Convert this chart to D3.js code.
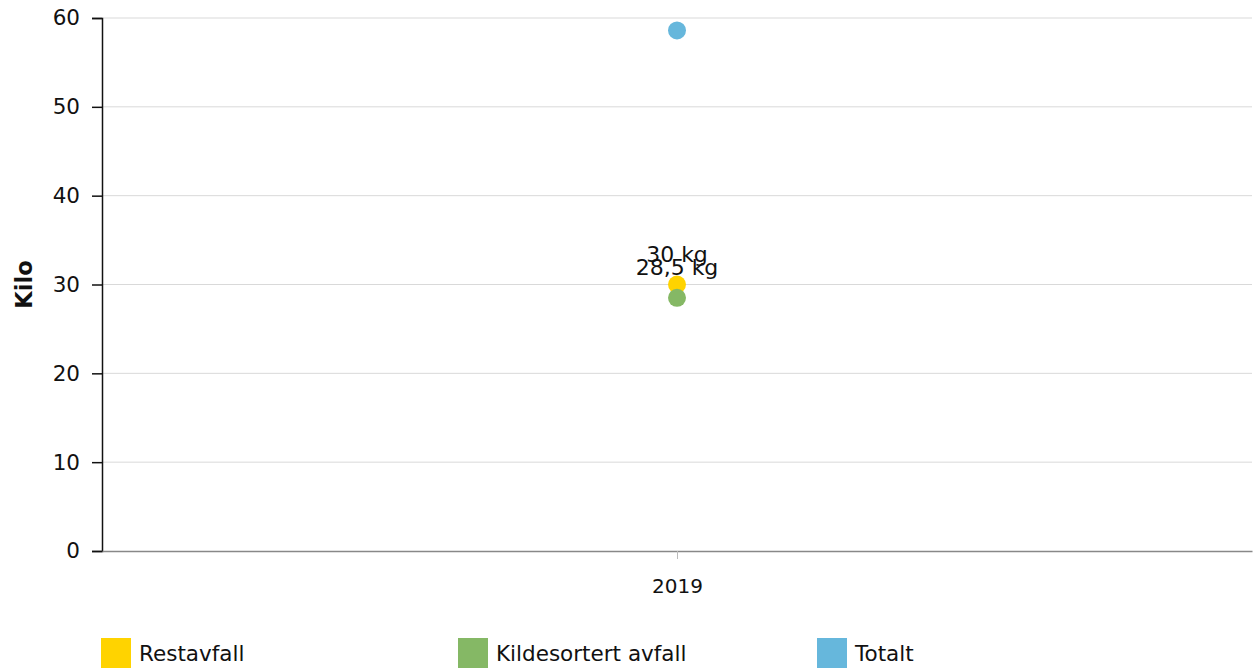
<!DOCTYPE html>
<html>
<head>
<meta charset="utf-8">
<script src="https://cdn.jsdelivr.net/npm/d3@7"></script>
<style>
body { margin: 0; background: #fff; }
text { font-family: Verdana, "DejaVu Sans", sans-serif; fill: #111; }
</style>
</head>
<body>
<script>
// data
const years = ["2019"]
const seriesNames = ["Restavfall", "Kildesortert avfall", "Totalt"]
const seriesColors = ["#FFD300", "#85B865", "#66B7DC"]
const restavfall = [30]
const kildesortert = [28.5]
const totalt = [58.6]
const labels = [["30 kg"], ["28,5 kg"], [null]]
const yTicks = [0, 10, 20, 30, 40, 50, 60]

const W = 1253, H = 670
const margin = {top: 18, right: 1, bottom: 119, left: 102}
const width = W - margin.left - margin.right
const height = H - margin.top - margin.bottom

const svg = d3.select("body").append("svg")
    .attr("width", W)
    .attr("height", H)

const g = svg.append("g").attr("transform", `translate(${margin.left},${margin.top})`)

const x = d3.scalePoint().domain(years).range([0, width]).padding(0.5)
const y = d3.scaleLinear().domain([0, 60]).range([height, 0])

// grid
g.append("g").selectAll("line")
    .data(yTicks.filter(d => d > 0))
    .enter().append("line")
    .attr("x1", 0).attr("x2", width)
    .attr("y1", d => y(d)).attr("y2", d => y(d))
    .attr("stroke", "#d9d9d9")

// y axis
const ya = g.append("g").call(d3.axisLeft(y).tickValues(yTicks).tickSize(10).tickPadding(12))
ya.select(".domain").attr("stroke", "#111").attr("stroke-width", 1.5)
ya.selectAll(".tick line").attr("stroke", "#111").attr("stroke-width", 1.5)
ya.selectAll("text").style("font-size", "21.5px").attr("fill", "#111")

// x axis
const xa = g.append("g").attr("transform", `translate(0,${height})`)
    .call(d3.axisBottom(x).tickSize(8).tickSizeOuter(0).tickPadding(20))
xa.select(".domain").attr("stroke", "#888").attr("stroke-width", 1.5)
xa.selectAll(".tick line").attr("stroke", "#bbb")
xa.selectAll("text").style("font-size", "20px").attr("fill", "#111")

svg.append("text")
    .attr("transform", `translate(32,${margin.top + height / 2}) rotate(-90)`)
    .attr("text-anchor", "middle")
    .style("font-size", "22.5px")
    .style("font-weight", "bold")
    .text("Kilo")

// points
const series = [restavfall, kildesortert, totalt]
const drawOrder = [2, 0, 1]
drawOrder.forEach(si => {
    g.append("g").selectAll("circle")
        .data(series[si])
        .enter().append("circle")
        .attr("cx", (d, i) => x(years[i]))
        .attr("cy", d => y(d))
        .attr("r", 9)
        .attr("fill", seriesColors[si])
})

// value labels
drawOrder.forEach(si => {
    g.append("g").selectAll("text")
        .data(series[si])
        .enter().append("text")
        .filter((d, i) => labels[si][i])
        .attr("x", (d, i) => x(years[i]))
        .attr("y", d => y(d) - 23)
        .attr("text-anchor", "middle")
        .style("font-size", "22px")
        .text((d, i) => labels[si][i])
})

// legend
const legendX = [101, 458, 817]
const lg = svg.append("g").selectAll("g")
    .data(seriesNames)
    .enter().append("g")
    .attr("transform", (d, i) => `translate(${legendX[i]},638)`)
lg.append("rect").attr("width", 30).attr("height", 30).attr("fill", (d, i) => seriesColors[i])
lg.append("text").attr("x", 38).attr("y", 23).style("font-size", "21.5px").text(d => d)
</script>
</body>
</html>
